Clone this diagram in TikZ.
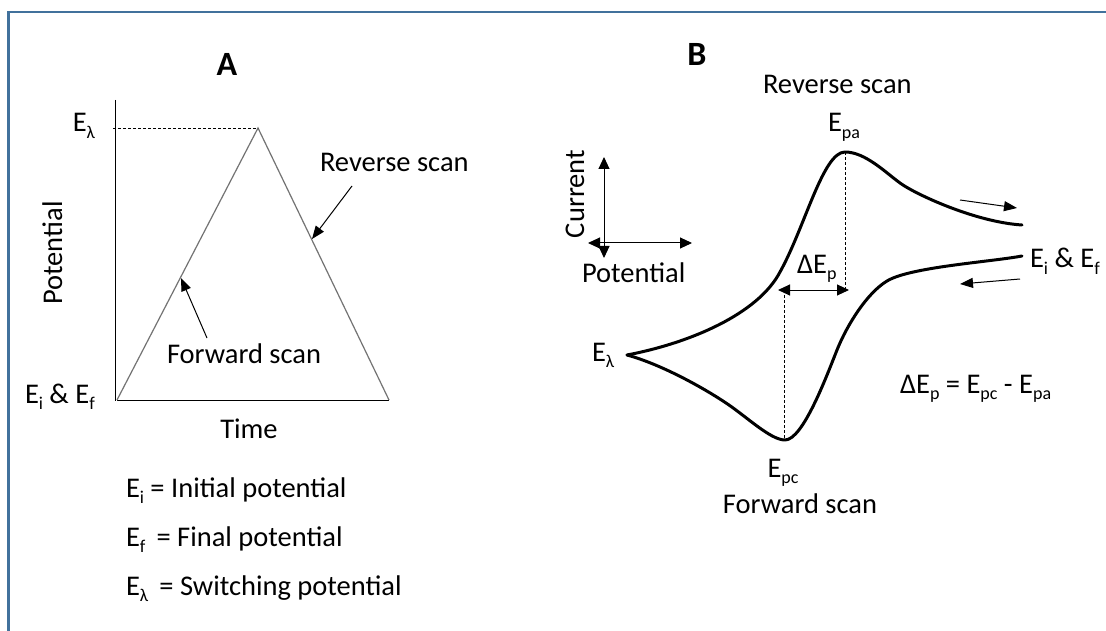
\documentclass[tikz,border=0pt]{standalone}
\usepackage{fontspec}
\setmainfont{Carlito}
\usetikzlibrary{arrows.meta}
\definecolor{frameblue}{RGB}{65,113,156}
\newcommand{\lsub}[1]{\raisebox{-0.22em}{\fontsize{18}{18}\selectfont #1}}
\begin{document}
\begin{tikzpicture}[x=1pt,y=-1pt,
  font=\fontsize{28.5}{34}\selectfont,
  lbl/.style={inner sep=0pt, outer sep=0pt},
  head/.style={inner sep=0pt, font=\fontsize{34}{40}\selectfont\bfseries},
  axisline/.style={line width=1pt, draw=black},
  tri/.style={line width=1.2pt, draw=black!55},
  guide/.style={line width=0.8pt, dash pattern=on 3pt off 2pt},
  ptr/.style={line width=1pt, -{Triangle[length=13pt,width=10pt]}},
  dbl/.style={line width=1pt, {Triangle[length=12pt,width=11pt]}-{Triangle[length=12pt,width=11pt]}},
  cv/.style={line width=3pt, line join=round, line cap=round},
  frameline/.style={line width=2.5pt, draw=frameblue}]
\useasboundingbox (0,0) rectangle (1106,631);
\fill[white] (0,0) rectangle (1106,631);
% frame (top and left visible)
\draw[frameline] (8.5,631) -- (8.5,12) -- (1106,12);

% ---------------- Panel A ----------------
\node[head] (hA) at (227,64) {A};
\coordinate (yaxTop) at (115,100);
\coordinate (yaxBot) at (115,401);
\draw[axisline] (yaxTop) -- (yaxBot);
\coordinate (t0) at (117,400);
\coordinate (tapex) at (258,128);
\coordinate (t1) at (389,400);
\draw[axisline] (t0) -- (t1);
\draw[tri] (t0) -- (tapex) -- (t1);
\coordinate (dashL) at (113,128);
\draw[guide] (dashL) -- (tapex);

\node[lbl, anchor=base east] (ElamA) at (95,132) {E\lsub{λ}};
\node[lbl, rotate=90, anchor=base] (potA) at (62,253) {Potential};
\node[lbl, anchor=base west] (revA) at (320,172) {Reverse scan};
\node[lbl, anchor=base west] (fwdA) at (167,363) {Forward scan};
\node[lbl, anchor=base west] (EiEfA) at (25,403) {E\lsub{i} \& E\lsub{f}};
\node[lbl, anchor=base] (timeA) at (249,438) {Time};

\coordinate (revTail) at (352,186);
\coordinate (revTip) at (312,239);
\draw[ptr] (revTail) -- (revTip);
\coordinate (fwdTail) at (207,338);
\coordinate (fwdTip) at (181,278);
\draw[ptr] (fwdTail) -- (fwdTip);

% legend
\node[lbl, anchor=base west] (legI) at (126,497) {E\lsub{i} = Initial potential};
\node[lbl, anchor=base west] (legF) at (126,546) {E\lsub{f}\ \,= Final potential};
\node[lbl, anchor=base west] (legL) at (126,595) {E\lsub{λ}\ \,= Switching potential};

% ---------------- Panel B ----------------
\node[head] (hB) at (697,54) {B};
\node[lbl, anchor=base west] (revB) at (763,94) {Reverse scan};
\node[lbl, anchor=base west] (Epa) at (828,132) {E\lsub{pa}};
\node[lbl, anchor=base] (Epc) at (783,477) {E\lsub{pc}};
\node[lbl, anchor=base] (fwdB) at (800,513) {Forward scan};
\node[lbl, anchor=base west] (ElamB) at (592,361) {E\lsub{λ}};
\node[lbl, anchor=base west] (EiEfB) at (1030,268) {E\lsub{i} \& E\lsub{f}};
\node[lbl, anchor=base west] (dEp) at (797,273) {ΔE\lsub{p}};
\node[lbl, anchor=base west] (dEpEq) at (900,393) {ΔE\lsub{p} = E\lsub{pc} - E\lsub{pa}};

% small axes
\node[lbl, rotate=90, anchor=base] (curB) at (584,194) {Current};
\node[lbl, anchor=base west] (potB) at (582,283) {Potential};
\coordinate (vaTop) at (604,157);
\coordinate (vaBot) at (604,258);
\coordinate (haL) at (588,243);
\coordinate (haR) at (692,243);
\draw[dbl] (vaBot) -- (vaTop);
\draw[dbl] (haL) -- (haR);

% CV curve
\coordinate (tip) at (627,355);
\coordinate (inflA) at (780,272);
\coordinate (peakA) at (845,152);
\coordinate (tailA1) at (900,183);
\coordinate (endA) at (1022,225);
\coordinate (midC) at (723,401);
\coordinate (peakC) at (785,440);
\coordinate (inflC) at (837,350);
\coordinate (tailC1) at (887,281);
\coordinate (endC) at (1022,256);
\draw[cv] (tip) .. controls (690,343) and (758,314) .. (inflA)
  .. controls (805,227) and (823,152) .. (peakA)
  .. controls (865,152) and (885,172) .. (tailA1)
  .. controls (915,194) and (975,222) .. (endA);
\draw[cv] (tip) .. controls (660,364) and (700,386) .. (midC)
  .. controls (745,415) and (770,440) .. (peakC)
  .. controls (803,440) and (827,375) .. (inflC)
  .. controls (847,325) and (867,293) .. (tailC1)
  .. controls (910,267) and (990,262) .. (endC);

% guides and delta arrow
\coordinate (dA) at (845,290);
\coordinate (dC) at (784,290);
\coordinate (dCb) at (784,440);
\draw[guide] (peakA) -- (dA);
\draw[guide] (dC) -- (dCb);
\coordinate (dL) at (778,290);
\coordinate (dR) at (849,290);
\draw[dbl] (dL) -- (dR);

% direction arrows
\coordinate (upT) at (960,200);
\coordinate (upH) at (1017,208);
\draw[ptr] (upT) -- (upH);
\coordinate (loT) at (1020,279);
\coordinate (loH) at (960,284);
\draw[ptr] (loT) -- (loH);
\end{tikzpicture}
\end{document}
